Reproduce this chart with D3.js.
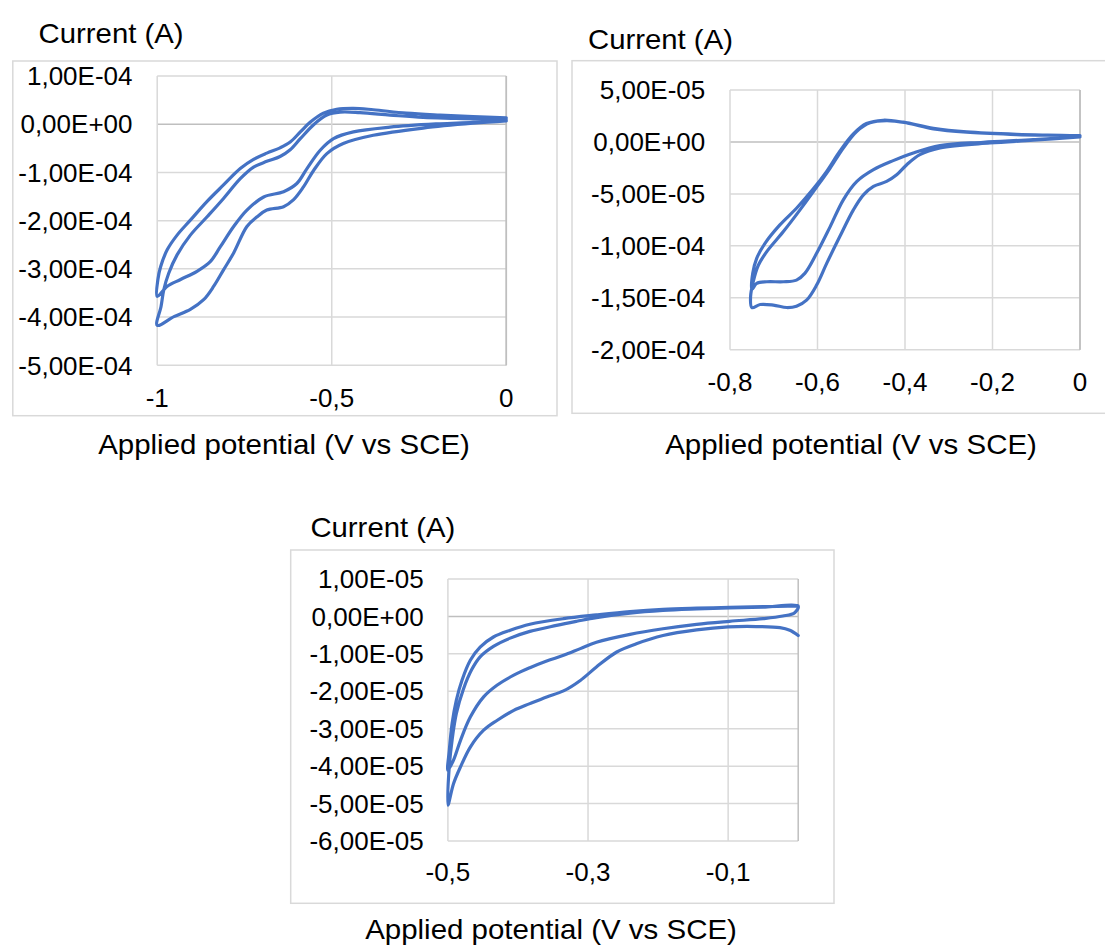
<!DOCTYPE html>
<html><head><meta charset="utf-8">
<script src="https://cdn.jsdelivr.net/npm/d3@7"></script>
<style>
body{margin:0;background:#fff}
svg{display:block}
text{font-family:"Liberation Sans",Arial,Helvetica,sans-serif;fill:#000}
</style>
</head><body>
<svg id="c" width="1105" height="945"></svg>
<script>
// ---------- data: [potential (V vs SCE), current (A)] in scan order ----------
const cv1 = [
 [0.000,0.07e-4],[-0.095,0.02e-4],[-0.238,-0.08e-4],[-0.381,-0.23e-4],[-0.467,-0.40e-4],
 [-0.514,-0.61e-4],[-0.552,-0.96e-4],[-0.581,-1.30e-4],[-0.610,-1.57e-4],[-0.638,-1.71e-4],
 [-0.686,-1.78e-4],[-0.714,-1.92e-4],[-0.743,-2.12e-4],[-0.781,-2.67e-4],[-0.810,-3.02e-4],
 [-0.838,-3.36e-4],[-0.867,-3.64e-4],[-0.905,-3.84e-4],[-0.952,-3.99e-4],[-1.000,-4.17e-4],
 [-0.989,-3.78e-4],[-0.981,-3.43e-4],[-0.967,-3.09e-4],[-0.943,-2.71e-4],[-0.905,-2.30e-4],
 [-0.857,-1.92e-4],[-0.810,-1.54e-4],[-0.762,-1.13e-4],[-0.724,-0.89e-4],[-0.686,-0.77e-4],
 [-0.648,-0.67e-4],[-0.619,-0.53e-4],[-0.590,-0.30e-4],[-0.552,-0.01e-4],[-0.514,0.19e-4],
 [-0.476,0.25e-4],[-0.419,0.24e-4],[-0.333,0.19e-4],[-0.238,0.14e-4],[-0.143,0.12e-4],
 [0.000,0.09e-4],
 [-0.095,0.04e-4],[-0.190,0.01e-4],[-0.333,-0.06e-4],[-0.438,-0.16e-4],[-0.495,-0.30e-4],
 [-0.533,-0.54e-4],[-0.571,-0.92e-4],[-0.600,-1.23e-4],[-0.638,-1.40e-4],[-0.695,-1.51e-4],
 [-0.743,-1.78e-4],[-0.781,-2.12e-4],[-0.819,-2.54e-4],[-0.848,-2.85e-4],[-0.886,-3.05e-4],
 [-0.933,-3.22e-4],[-0.971,-3.36e-4],[-1.000,-3.57e-4],
 [-0.998,-3.22e-4],[-0.990,-2.95e-4],[-0.971,-2.60e-4],[-0.943,-2.30e-4],[-0.905,-1.99e-4],
 [-0.857,-1.60e-4],[-0.810,-1.26e-4],[-0.762,-0.92e-4],[-0.724,-0.73e-4],[-0.686,-0.60e-4],
 [-0.648,-0.49e-4],[-0.619,-0.37e-4],[-0.590,-0.16e-4],[-0.562,0.04e-4],[-0.524,0.23e-4],
 [-0.486,0.31e-4],[-0.438,0.33e-4],[-0.381,0.30e-4],[-0.286,0.23e-4],[-0.190,0.19e-4],
 [-0.095,0.16e-4],[0.000,0.13e-4]
];
const cv2 = [
 [0.000,0.48e-5],[-0.107,0.16e-5],[-0.206,-0.10e-5],[-0.320,-0.58e-5],[-0.366,-1.22e-5],
 [-0.396,-2.19e-5],[-0.419,-3.16e-5],[-0.442,-3.80e-5],[-0.472,-4.28e-5],[-0.495,-5.09e-5],
 [-0.518,-6.54e-5],[-0.549,-9.11e-5],[-0.579,-11.69e-5],[-0.602,-13.78e-5],[-0.625,-15.23e-5],
 [-0.648,-15.81e-5],[-0.670,-15.94e-5],[-0.701,-15.71e-5],[-0.731,-15.65e-5],[-0.750,-15.94e-5],
 [-0.753,-14.91e-5],[-0.747,-13.46e-5],[-0.735,-11.85e-5],[-0.716,-10.56e-5],[-0.678,-8.63e-5],
 [-0.640,-6.54e-5],[-0.602,-4.35e-5],[-0.571,-2.51e-5],[-0.541,-0.58e-5],[-0.510,1.03e-5],
 [-0.480,1.84e-5],[-0.442,2.06e-5],[-0.396,1.84e-5],[-0.335,1.26e-5],[-0.259,0.93e-5],
 [-0.145,0.71e-5],[0.000,0.55e-5],
 [-0.107,0.23e-5],[-0.221,-0.03e-5],[-0.320,-0.35e-5],[-0.381,-1.06e-5],[-0.427,-1.80e-5],
 [-0.472,-2.67e-5],[-0.510,-3.80e-5],[-0.541,-5.57e-5],[-0.571,-8.15e-5],[-0.602,-10.72e-5],
 [-0.629,-12.65e-5],[-0.648,-13.30e-5],[-0.678,-13.46e-5],[-0.716,-13.46e-5],[-0.739,-13.62e-5],
 [-0.750,-14.20e-5],
 [-0.748,-12.65e-5],[-0.739,-11.21e-5],[-0.720,-9.76e-5],[-0.686,-7.99e-5],[-0.648,-6.38e-5],
 [-0.610,-4.54e-5],[-0.579,-2.83e-5],[-0.549,-0.90e-5],[-0.518,0.77e-5],[-0.488,1.77e-5],
 [-0.450,2.09e-5],[-0.404,1.90e-5],[-0.335,1.32e-5],[-0.259,0.97e-5],[-0.145,0.74e-5],
 [0.000,0.61e-5]
];
const cv3 = [
 [0.000,-0.51e-5],[-0.012,-0.37e-5],[-0.026,-0.30e-5],[-0.060,-0.27e-5],[-0.100,-0.28e-5],
 [-0.145,-0.36e-5],[-0.193,-0.51e-5],[-0.231,-0.73e-5],[-0.259,-0.95e-5],[-0.288,-1.35e-5],
 [-0.311,-1.71e-5],[-0.335,-1.99e-5],[-0.359,-2.15e-5],[-0.383,-2.33e-5],[-0.406,-2.51e-5],
 [-0.430,-2.78e-5],[-0.449,-3.04e-5],[-0.468,-3.49e-5],[-0.482,-4.02e-5],[-0.492,-4.47e-5],
 [-0.500,-5.04e-5],
 [-0.498,-4.00e-5],[-0.494,-3.30e-5],[-0.488,-2.60e-5],[-0.478,-1.95e-5],[-0.466,-1.42e-5],
 [-0.454,-1.08e-5],[-0.435,-0.80e-5],[-0.411,-0.58e-5],[-0.383,-0.40e-5],[-0.345,-0.24e-5],
 [-0.316,-0.13e-5],[-0.288,-0.03e-5],[-0.240,0.09e-5],[-0.193,0.16e-5],[-0.145,0.20e-5],
 [-0.098,0.23e-5],[-0.050,0.25e-5],[0.000,0.27e-5],
 [-0.005,0.10e-5],[-0.022,0.01e-5],
 [-0.050,-0.06e-5],[-0.098,-0.13e-5],[-0.145,-0.21e-5],[-0.193,-0.33e-5],[-0.240,-0.48e-5],
 [-0.288,-0.69e-5],[-0.311,-0.86e-5],[-0.335,-1.04e-5],[-0.359,-1.19e-5],[-0.383,-1.37e-5],
 [-0.406,-1.57e-5],[-0.430,-1.84e-5],[-0.449,-2.15e-5],[-0.468,-2.69e-5],[-0.482,-3.31e-5],
 [-0.492,-3.84e-5],[-0.500,-4.11e-5],
 [-0.498,-3.58e-5],[-0.494,-2.86e-5],[-0.488,-2.24e-5],[-0.480,-1.71e-5],[-0.468,-1.17e-5],
 [-0.454,-0.82e-5],[-0.435,-0.55e-5],[-0.411,-0.37e-5],[-0.383,-0.21e-5],[-0.335,-0.06e-5],
 [-0.288,0.04e-5],[-0.240,0.13e-5],[-0.193,0.19e-5],[-0.145,0.22e-5],[-0.098,0.24e-5],
 [-0.050,0.26e-5],[0.000,0.28e-5]
];

// ---------- ticks ----------
const xTicks1 = [-1, -0.5, 0];
const yTicks1 = [1e-4, 0, -1e-4, -2e-4, -3e-4, -4e-4, -5e-4];
const xTicks2 = [-0.8, -0.6, -0.4, -0.2, 0];
const yTicks2 = [5e-5, 0, -5e-5, -1e-4, -1.5e-4, -2e-4];
const xTicks3 = [-0.5, -0.3, -0.1];
const yTicks3 = [1e-5, 0, -1e-5, -2e-5, -3e-5, -4e-5, -5e-5, -6e-5];

const yTitle = "Current (A)";
const xTitle = "Applied potential (V vs SCE)";

// ---------- layout ----------
const layouts = [
  {data: cv1, xTicks: xTicks1, yTicks: yTicks1, xDomain: [-1, 0], yDomain: [-5e-4, 1e-4],
   frame: {x0: 12.8, y0: 61, x1: 557, y1: 415.7}, plot: {l: 157.2, r: 506.3, t: 76, b: 365.3},
   yLabelX: 132.5, xLabelBase: 407, title: {x: 38.6, base: 43}, xt: {cx: 284, base: 454}},
  {data: cv2, xTicks: xTicks2, yTicks: yTicks2, xDomain: [-0.8, 0], yDomain: [-2e-4, 5e-5],
   frame: {x0: 572, y0: 60.7, x1: 1125, y1: 413.3}, plot: {l: 730, r: 1080, t: 90, b: 349.7},
   yLabelX: 705.3, xLabelBase: 390.5, title: {x: 588, base: 49}, xt: {cx: 851, base: 454}},
  {data: cv3, xTicks: xTicks3, yTicks: yTicks3, xDomain: [-0.5, 0], yDomain: [-6e-5, 1e-5],
   frame: {x0: 290.7, y0: 550, x1: 834, y1: 903.3}, plot: {l: 447.9, r: 798.2, t: 579, b: 841},
   yLabelX: 423.6, xLabelBase: 881, title: {x: 310.4, base: 537}, xt: {cx: 551, base: 939}}
];

const BLUE = "#4472C4", GRID = "#d9d9d9", AXIS = "#bfbfbf";
const TICK_FS = 26, TICK_STRETCH = 1.0;
const TITLE_FS = 27, TITLE_W = 145;
const XT_FS = 27, XT_W = 372;

function sciLabel(v) {
  const s = Number(v).toExponential(2);
  const [m, e] = s.split("e");
  const ev = parseInt(e, 10);
  const es = (ev < 0 ? "-" : "+") + String(Math.abs(ev)).padStart(2, "0");
  return m.replace(".", ",") + "E" + es;
}
function decLabel(v) { return String(v).replace(".", ","); }

const svg = d3.select("#c");

function stretchText(sel, x, y, factor) {
  sel.attr("x", 0).attr("y", 0).attr("transform", `translate(${x},${y}) scale(${factor},1)`);
}

layouts.forEach(L => {
  const g = svg.append("g");
  const x = d3.scaleLinear().domain(L.xDomain).range([L.plot.l, L.plot.r]);
  const y = d3.scaleLinear().domain(L.yDomain).range([L.plot.b, L.plot.t]);

  g.append("rect")
    .attr("x", L.frame.x0).attr("y", L.frame.y0)
    .attr("width", L.frame.x1 - L.frame.x0).attr("height", L.frame.y1 - L.frame.y0)
    .attr("fill", "#fff").attr("stroke", GRID).attr("stroke-width", 1.5);

  L.yTicks.forEach(v => {
    g.append("line").attr("x1", x(L.xDomain[0])).attr("x2", x(L.xDomain[1]))
      .attr("y1", y(v)).attr("y2", y(v))
      .attr("stroke", v === 0 ? AXIS : GRID).attr("stroke-width", 1.5);
  });
  L.xTicks.forEach(v => {
    g.append("line").attr("x1", x(v)).attr("x2", x(v))
      .attr("y1", y(L.yDomain[0])).attr("y2", y(L.yDomain[1]))
      .attr("stroke", v === 0 ? AXIS : GRID).attr("stroke-width", 1.5);
  });
  g.append("line").attr("x1", x(0)).attr("x2", x(0))
    .attr("y1", y(L.yDomain[0])).attr("y2", y(L.yDomain[1]))
    .attr("stroke", AXIS).attr("stroke-width", 1.5);

  L.yTicks.forEach(v => {
    const t = g.append("text").attr("font-size", TICK_FS).attr("text-anchor", "end").text(sciLabel(v));
    stretchText(t, L.yLabelX, y(v) + 9.2, TICK_STRETCH);
  });
  L.xTicks.forEach(v => {
    const t = g.append("text").attr("font-size", TICK_FS).attr("text-anchor", "middle").text(decLabel(v));
    stretchText(t, x(v), L.xLabelBase, TICK_STRETCH);
  });

  const line = d3.line().x(d => x(d[0])).y(d => y(d[1])).curve(d3.curveCatmullRom.alpha(0.5));
  g.append("path").datum(L.data).attr("d", line)
    .attr("fill", "none").attr("stroke", BLUE).attr("stroke-width", 3.2)
    .attr("stroke-linejoin", "round").attr("stroke-linecap", "round");

  const tt = svg.append("text").attr("font-size", TITLE_FS).attr("text-anchor", "start").text(yTitle);
  const w1 = tt.node().getComputedTextLength();
  stretchText(tt, L.title.x, L.title.base, TITLE_W / w1);

  const xt = svg.append("text").attr("font-size", XT_FS).attr("text-anchor", "middle").text(xTitle);
  const w2 = xt.node().getComputedTextLength();
  stretchText(xt, L.xt.cx, L.xt.base, XT_W / w2);
});
</script>
</body></html>
